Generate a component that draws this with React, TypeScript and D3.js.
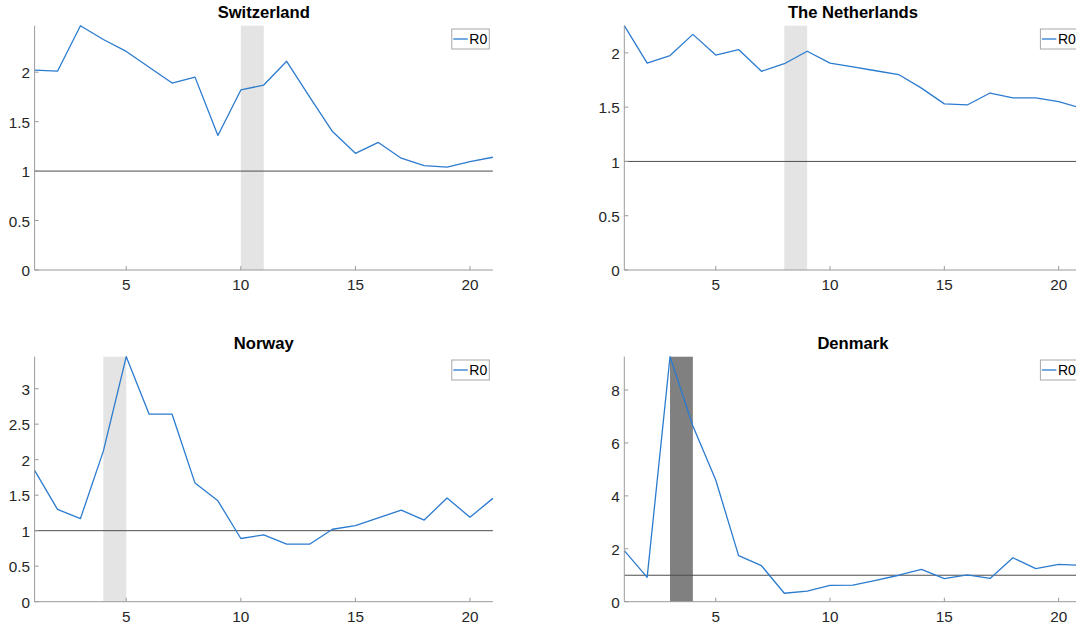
import React from "react";
import * as d3 from "d3";

// Weekly reproduction number estimates per country (weeks 1..21)
const weeks = d3.range(1, 22);

const countries = ["Switzerland", "The Netherlands", "Norway", "Denmark"];

const switzerland = [2.02, 2.01, 2.47, 2.33, 2.21, 2.05, 1.89, 1.95, 1.36, 1.82, 1.87,
  2.11, 1.75, 1.40, 1.18, 1.29, 1.13, 1.055, 1.04, 1.095, 1.14];
const netherlands = [2.25, 1.905, 1.975, 2.17, 1.98, 2.03, 1.83, 1.9, 2.015, 1.905, 1.87,
  1.835, 1.8, 1.675, 1.53, 1.52, 1.63, 1.585, 1.585, 1.55, 1.49];
const norway = [1.85, 1.30, 1.17, 2.12, 3.45, 2.64, 2.64, 1.67, 1.42, 0.89, 0.94,
  0.81, 0.81, 1.02, 1.07, 1.18, 1.29, 1.15, 1.46, 1.19, 1.455];
const denmark = [1.93, 0.92, 9.26, 6.64, 4.6, 1.74, 1.36, 0.32, 0.40, 0.62, 0.63,
  0.81, 1.0, 1.22, 0.87, 1.01, 0.88, 1.66, 1.25, 1.41, 1.37];

const seriesByCountry = [switzerland, netherlands, norway, denmark];

// Week at which the highlighted one-week interval starts
const bandStart = [10, 8, 4, 3];
const bandDark = [false, false, false, true];

const yTicksByCountry = [
  [0, 0.5, 1, 1.5, 2],
  [0, 0.5, 1, 1.5, 2],
  [0, 0.5, 1, 1.5, 2, 2.5, 3],
  [0, 2, 4, 6, 8],
];
const xTicks = [5, 10, 15, 20];
const threshold = 1;
const legendLabel = "R0";

const W = 1076;
const H = 626;
const FONT = "'Liberation Sans', Arial, Helvetica, sans-serif";
const LINE = "#2b7bcf";

const colX = [[34.6, 492.9], [624.3, 1081.5]];
const rowY = [[25.7, 270], [356.7, 601.7]];

function Panel({ idx }: { idx: number }) {
  const col = idx % 2;
  const row = Math.floor(idx / 2);
  const [x0, x1] = colX[col];
  const [yTop, yBot] = rowY[row];
  const data = seriesByCountry[idx];
  const x = d3.scaleLinear().domain([1, 21]).range([x0, x1]);
  const y = d3.scaleLinear().domain([0, d3.max(data) as number]).range([yBot, yTop]);
  const line = d3
    .line<number>()
    .x((_, i) => x(weeks[i]))
    .y((d) => y(d));
  const fmt = d3.format("~g");
  const axisColor = "#9a9a9a";
  const tickColor = "#262626";
  const b0 = bandStart[idx];
  const legW = 37.5;
  const legH = 20;
  const legX = x1 - 3.6 - legW;
  const legY = yTop + 3.3;
  return (
    <g>
      <text
        x={(x0 + x1) / 2}
        y={yTop - 7.5}
        textAnchor="middle"
        fontFamily={FONT}
        fontWeight="bold"
        fontSize={16.6}
        fill="#000"
      >
        {countries[idx]}
      </text>
      <rect
        x={x(b0)}
        y={yTop}
        width={x(b0 + 1) - x(b0)}
        height={yBot - yTop}
        fill={bandDark[idx] ? "#808080" : "#e4e4e4"}
      />
      <line x1={x0} x2={x1} y1={y(threshold)} y2={y(threshold)} stroke="#4d4d4d" strokeWidth={1} />
      <path d={line(data) || ""} fill="none" stroke={LINE} strokeWidth={1.3} strokeLinejoin="round" />
      {/* axes */}
      <line x1={x0} x2={x0} y1={yTop} y2={yBot} stroke={axisColor} strokeWidth={1} />
      <line x1={x0} x2={x1} y1={yBot} y2={yBot} stroke={axisColor} strokeWidth={1} />
      {yTicksByCountry[idx].map((t) => (
        <g key={"y" + t}>
          <line x1={x0} x2={x0 + 4} y1={y(t)} y2={y(t)} stroke={axisColor} />
          <text
            x={x0 - 4.5}
            y={y(t)}
            dy="0.4em"
            textAnchor="end"
            fontFamily={FONT}
            fontSize={15.3}
            fill={tickColor}
          >
            {fmt(t)}
          </text>
        </g>
      ))}
      {xTicks.map((t) => (
        <g key={"x" + t}>
          <line x1={x(t)} x2={x(t)} y1={yBot} y2={yBot - 4} stroke={axisColor} />
          <text
            x={x(t)}
            y={yBot + 20}
            textAnchor="middle"
            fontFamily={FONT}
            fontSize={15.3}
            fill={tickColor}
          >
            {t}
          </text>
        </g>
      ))}
      {/* legend */}
      <rect x={legX} y={legY} width={legW} height={legH} fill="#fff" stroke="#a8a8a8" strokeWidth={1} />
      <line x1={legX + 1.5} x2={legX + 16} y1={legY + legH / 2} y2={legY + legH / 2} stroke={LINE} strokeWidth={1.3} />
      <text
        x={legX + 17.5}
        y={legY + legH / 2}
        dy="0.36em"
        fontFamily={FONT}
        fontSize={14}
        fill="#000"
      >
        {legendLabel}
      </text>
    </g>
  );
}

export default function App() {
  return (
    <svg
      width={W}
      height={H}
      viewBox={`0 0 ${W} ${H}`}
      style={{ position: "absolute", left: 0, top: 0, background: "#fff" }}
    >
      <rect width={W} height={H} fill="#fff" />
      {countries.map((_, i) => (
        <Panel key={i} idx={i} />
      ))}
    </svg>
  );
}
